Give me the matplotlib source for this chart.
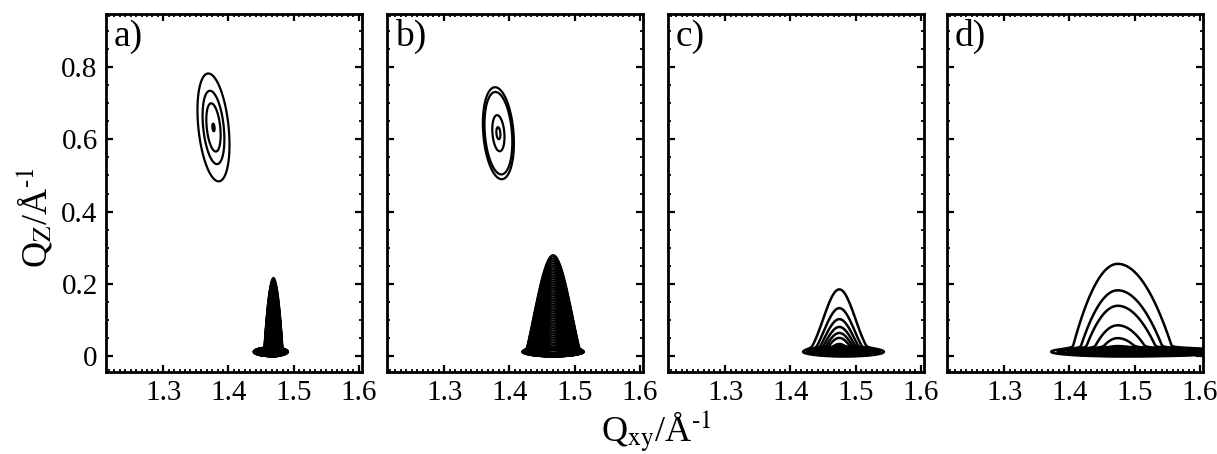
import numpy as np
import matplotlib.pyplot as plt
from matplotlib.ticker import MultipleLocator, AutoMinorLocator

plt.rcParams['font.family'] = ['Liberation Serif', 'DejaVu Serif']
plt.rcParams['mathtext.fontset'] = 'stix'

panel_labels = ['a)', 'b)', 'c)', 'd)']
qxy_ticks = [1.3, 1.4, 1.5, 1.6]
qxy_tick_labels = ['1.3', '1.4', '1.5', '1.6']
qz_ticks = [0, 0.2, 0.4, 0.6, 0.8]
qz_tick_labels = ['0', '0.2', '0.4', '0.6', '0.8']

# off-specular Bragg peak, only seen in a) and b)
peak_qxy = [1.377, 1.383]
peak_qz = [0.633, 0.617]
peak_sig_qxy = [0.0095, 0.0095]
peak_sig_qz = [0.061, 0.052]
peak_tilt = [-0.053, -0.04]
peak_levels = [[0.05, 0.25, 0.55, 0.985], [0.05, 0.09, 0.63, 0.95]]

# in-plane Bragg rod near Qxy ~ 1.47
rod_qxy = [1.469, 1.467, 1.475, 1.474]
rod_qz0 = [0.012, 0.012, 0.012, 0.012]
rod_decay = [0.0387, 0.0506, 0.075, 0.1057]
rod_sig_left = [0.0045, 0.0129, 0.022, 0.033]
rod_sig_right = [0.0045, 0.0129, 0.022, 0.040]
rod_narrowing = [1.0, 0.0405, 0.031, 1.0]
rod_levels = [
    list(np.geomspace(0.005, 3.0, 70)),
    list(np.geomspace(0.005, 3.0, 70)),
    [0.1, 0.2, 0.3, 0.4, 0.5, 0.6],
    [0.1, 0.2, 0.3, 0.5, 0.7],
]

# strong horizon band at Qz ~ 0
base_qxy = [1.465, 1.467, 1.483, 1.485]
base_amp = [3.0, 3.0, 5.0, 5.0]
base_sig_left = [0.0075, 0.0131, 0.0214, 0.040]
base_sig_right = [0.0075, 0.0131, 0.0214, 0.057]
base_sig_qz = [0.0036, 0.0036, 0.0046, 0.0046]

qxy = np.linspace(1.20, 1.62, 841)
qz = np.linspace(-0.06, 0.96, 1021)
X, Z = np.meshgrid(qxy, qz)


def rod_field(i):
    dx = X - rod_qxy[i]
    sig = np.where(dx < 0, rod_sig_left[i], rod_sig_right[i])
    lam = rod_decay[i] * np.exp(-dx ** 2 / (2 * rod_narrowing[i] ** 2))
    dz = Z - rod_qz0[i]
    zprof = np.where(dz >= 0, np.exp(-np.clip(dz, 0, None) / lam),
                     np.exp(-dz ** 2 / (2 * 0.004 ** 2)))
    rod = np.exp(-dx ** 2 / (2 * sig ** 2)) * zprof
    bx = X - base_qxy[i]
    bsig = np.where(bx < 0, base_sig_left[i], base_sig_right[i])
    base = base_amp[i] * np.exp(-bx ** 2 / (2 * bsig ** 2)) \
        * np.exp(-(Z - rod_qz0[i]) ** 2 / (2 * base_sig_qz[i] ** 2))
    return rod + base


def peak_field(i):
    dz = Z - peak_qz[i]
    dx = X - peak_qxy[i] - peak_tilt[i] * dz
    return np.exp(-dx ** 2 / (2 * peak_sig_qxy[i] ** 2) - dz ** 2 / (2 * peak_sig_qz[i] ** 2))


fig = plt.figure(figsize=(12.17, 4.54), dpi=100)
lefts = [106, 387, 668, 947]
for i in range(4):
    ax = fig.add_axes([lefts[i] / 1217, 82 / 454, 256 / 1217, 358 / 454])

    if i < 2:
        ax.contour(X, Z, peak_field(i), levels=peak_levels[i], colors='k', linewidths=1.6)
        lw = 1.2
    else:
        lw = 1.8
    levels = rod_levels[i]
    if levels[-1] < base_amp[i]:
        levels = levels + list(np.geomspace(levels[-1] * 1.25, base_amp[i], 30))
    ax.contour(X, Z, rod_field(i), levels=levels, colors='k', linewidths=lw)

    ax.set_xlim(1.212, 1.605)
    ax.set_ylim(-0.044, 0.947)
    ax.set_xticks(qxy_ticks)
    ax.set_xticklabels(qxy_tick_labels)
    ax.set_yticks(qz_ticks)
    ax.set_yticklabels(qz_tick_labels)
    ax.xaxis.set_minor_locator(AutoMinorLocator(12))
    ax.yaxis.set_minor_locator(MultipleLocator(0.05))
    ax.tick_params(which='both', direction='in', top=True, right=True,
                   labelsize=21, width=1.6, pad=6)
    ax.tick_params(which='major', length=5)
    ax.tick_params(which='minor', length=2.5, width=1.3)
    if i > 0:
        ax.tick_params(labelleft=False)
    for sp in ax.spines.values():
        sp.set_linewidth(2)

    ax.text(0.03, 0.985, panel_labels[i], transform=ax.transAxes,
            ha='left', va='top', fontsize=27)

fig.text(34 / 1217, 1 - 218 / 454, r'Q$_{\mathrm{Z}}$/Å$^{\text{-1}}$', rotation=90,
         ha='center', va='center', fontsize=26)
fig.text(656 / 1217, 1 - 432 / 454, r'Q$_{\mathrm{xy}}$/Å$^{\text{-1}}$',
         ha='center', va='center', fontsize=26)

fig.savefig('out.png', dpi=100)
